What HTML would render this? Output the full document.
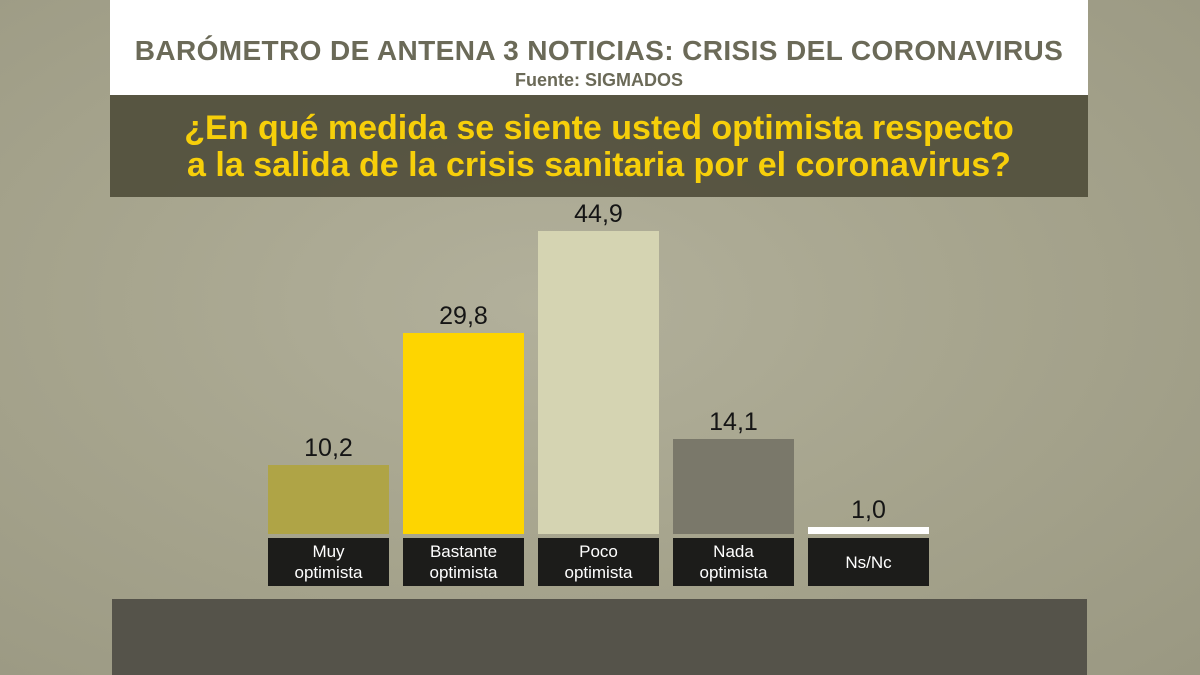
<!DOCTYPE html>
<html><head><meta charset="utf-8"><style>
body{margin:0;width:1200px;height:675px;overflow:hidden;background:radial-gradient(ellipse at 45% 45%,#b2b09b 0%,#a6a48d 50%,#9a9882 100%);font-family:"Liberation Sans",sans-serif;position:relative}
div{position:absolute}
.t{left:110px;top:0;width:978px;height:95px;background:#fff}
.h1{left:110px;width:978px;top:35px;text-align:center;font-weight:bold;font-size:28px;color:#6b6a58;letter-spacing:0.4px}
.h2{left:110px;width:978px;top:70px;text-align:center;font-weight:bold;font-size:18px;color:#6b6a58}
.q{left:110px;top:95px;width:978px;height:102px;background:#55533f;opacity:.97}
.qt{left:110px;width:978px;top:110px;text-align:center;font-weight:bold;font-size:34px;line-height:37px;color:#f7cf0a}
.bot{left:112px;top:599px;width:975px;height:76px;background:#55534a}
.bar{width:121px;bottom:141px}
.v{width:121px;text-align:center;font-size:25px;color:#151515}
.l{width:121px;top:538px;height:48px;background:#1c1c1a;color:#fff;text-align:center;font-size:17px;line-height:21px;display:flex;align-items:center;justify-content:center}
</style></head><body>
<div class="t"></div>
<div class="h1">BARÓMETRO DE ANTENA 3 NOTICIAS: CRISIS DEL CORONAVIRUS</div>
<div class="h2">Fuente: SIGMADOS</div>
<div class="q"></div>
<div class="qt">¿En qué medida se siente usted optimista respecto<br>a la salida de la crisis sanitaria por el coronavirus?</div>
<div class="bar" style="left:268px;top:465px;background:#afa446"></div>
<div class="bar" style="left:403px;top:333px;background:#fed500"></div>
<div class="bar" style="left:538px;top:231px;background:#d5d4b2"></div>
<div class="bar" style="left:673px;top:439px;background:#7a786a"></div>
<div class="bar" style="left:808px;top:527px;background:#fff"></div>
<div class="v" style="left:268px;top:434px">10,2</div>
<div class="v" style="left:403px;top:302px">29,8</div>
<div class="v" style="left:538px;top:200px">44,9</div>
<div class="v" style="left:673px;top:408px">14,1</div>
<div class="v" style="left:808px;top:496px">1,0</div>
<div class="l" style="left:268px">Muy<br>optimista</div>
<div class="l" style="left:403px">Bastante<br>optimista</div>
<div class="l" style="left:538px">Poco<br>optimista</div>
<div class="l" style="left:673px">Nada<br>optimista</div>
<div class="l" style="left:808px">Ns/Nc</div>
<div class="bot"></div>
</body></html>
